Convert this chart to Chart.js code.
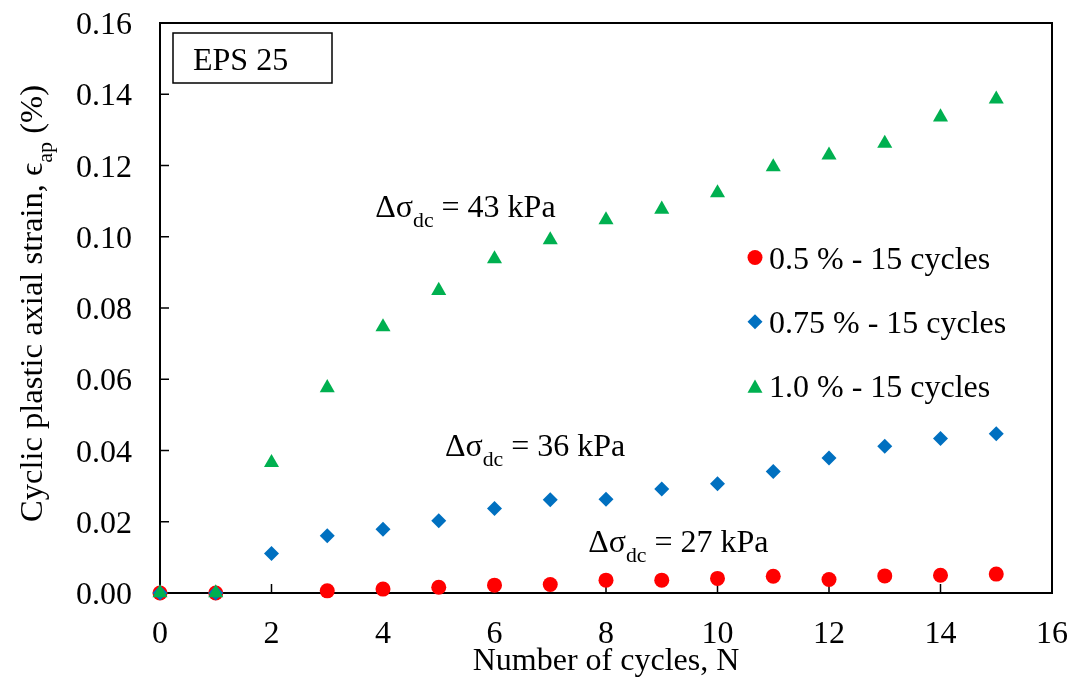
<!DOCTYPE html>
<html>
<head>
<meta charset="utf-8">
<script src="https://cdn.jsdelivr.net/npm/chart.js@4/dist/chart.umd.min.js"></script>
<style>
  html, body { margin: 0; padding: 0; background: #fff; }
  #strainChart { display: block; }
</style>
</head>
<body>
<canvas id="strainChart" width="1077" height="679"></canvas>
<script>
// Cycle numbers and plastic strain (%) for each stress level
const cycles = [0, 1, 2, 3, 4, 5, 6, 7, 8, 9, 10, 11, 12, 13, 14, 15];
const strain05 = [0, 0, null, 0.0006, 0.0011, 0.0016, 0.0022, 0.0024, 0.0036, 0.0036, 0.0041, 0.0047, 0.0038, 0.0048, 0.0050, 0.0053];
const strain075 = [0, 0, 0.0111, 0.0161, 0.0179, 0.0203, 0.0237, 0.0262, 0.0263, 0.0292, 0.0307, 0.0341, 0.0379, 0.0412, 0.0434, 0.0447];
const strain10 = [0, 0, 0.0366, 0.0576, 0.0747, 0.0849, 0.0938, 0.0991, 0.1047, 0.1077, 0.1123, 0.1196, 0.1229, 0.1262, 0.1336, 0.1386];

const seriesNames = ['0.5 % - 15 cycles', '0.75 % - 15 cycles', '1.0 % - 15 cycles'];
const xTicks = [0, 2, 4, 6, 8, 10, 12, 14, 16];
const yTicks = [0, 0.02, 0.04, 0.06, 0.08, 0.10, 0.12, 0.14, 0.16];

const SERIF = "'Liberation Serif', 'Times New Roman', serif";
const FONT = 32;

function toPoints(values) {
  const pts = [];
  values.forEach((v, i) => { if (v !== null) pts.push({ x: cycles[i], y: v }); });
  return pts;
}

// draws a run of text pieces, some of them subscripts
function drawRich(ctx, parts, x, y, o) {
  const size = o.size || FONT;
  const subSize = size * 0.68;
  ctx.save();
  ctx.fillStyle = '#000';
  ctx.textBaseline = 'alphabetic';
  ctx.textAlign = 'left';
  let total = 0;
  const widths = parts.map(p => {
    ctx.font = (p.sub ? subSize : size) + 'px ' + SERIF;
    const w = ctx.measureText(p.t).width;
    total += w;
    return w;
  });
  ctx.translate(x, y);
  if (o.rotate) ctx.rotate(o.rotate);
  if (o.fitLength) ctx.scale(o.fitLength / total, 1);
  let cx = o.align === 'center' ? -total / 2 : (o.align === 'right' ? -total : 0);
  parts.forEach((p, i) => {
    ctx.font = (p.sub ? subSize : size) + 'px ' + SERIF;
    ctx.fillText(p.t, cx, p.sub ? size * 0.32 : 0);
    cx += widths[i];
  });
  ctx.restore();
}

function legendMarker(ctx, style, color, x, y) {
  ctx.save();
  ctx.fillStyle = color;
  ctx.beginPath();
  if (style === 'circle') {
    ctx.arc(x, y, 7.5, 0, Math.PI * 2);
  } else if (style === 'rectRot') {
    ctx.moveTo(x, y - 7.5); ctx.lineTo(x + 7.5, y); ctx.lineTo(x, y + 7.5); ctx.lineTo(x - 7.5, y);
  } else {
    ctx.moveTo(x, y - 6.6); ctx.lineTo(x + 7.5, y + 6.6); ctx.lineTo(x - 7.5, y + 6.6);
  }
  ctx.closePath();
  ctx.fill();
  ctx.restore();
}

// stress amplitude notes, anchored in data units
const notes = [
  { at: [3.86, 0.1055], kpa: '43' },
  { at: [5.11, 0.0384], kpa: '36' },
  { at: [7.68, 0.0116], kpa: '27' }
];

const framePlugin = {
  id: 'frame',
  beforeDatasetsDraw(chart) {
    const { ctx, chartArea: a, scales: { x, y } } = chart;
    ctx.save();
    ctx.strokeStyle = '#000';
    ctx.lineWidth = 2;
    ctx.strokeRect(a.left, a.top, a.right - a.left, a.bottom - a.top);
    ctx.lineWidth = 1.5;
    ctx.beginPath();
    x.ticks.forEach(t => {
      const px = x.getPixelForValue(t.value);
      ctx.moveTo(px, a.bottom); ctx.lineTo(px, a.bottom - 9);
    });
    y.ticks.forEach(t => {
      const py = y.getPixelForValue(t.value);
      ctx.moveTo(a.left, py); ctx.lineTo(a.left + 9, py);
    });
    ctx.stroke();
    ctx.restore();

    // tick labels
    x.ticks.forEach(t => {
      drawRich(ctx, [{ t: String(t.value) }], x.getPixelForValue(t.value), 643, { align: 'center' });
    });
    y.ticks.forEach(t => {
      drawRich(ctx, [{ t: t.value.toFixed(2) }], 132, y.getPixelForValue(t.value) + 11, { align: 'right' });
    });

    // axis titles
    drawRich(ctx, [{ t: 'Number of cycles, N' }], (a.left + a.right) / 2, 670, { align: 'center' });
    drawRich(ctx, [{ t: 'Cyclic plastic axial strain, \u03F5' }, { t: 'ap', sub: true }, { t: ' (%)' }],
      42, 303.5, { align: 'center', rotate: -Math.PI / 2, fitLength: 437 });
  },
  afterDatasetsDraw(chart) {
    const { ctx, scales: { x, y } } = chart;

    // material tag
    ctx.save();
    ctx.strokeStyle = '#000';
    ctx.lineWidth = 1.5;
    ctx.strokeRect(173, 33, 159, 50);
    ctx.restore();
    drawRich(ctx, [{ t: 'EPS 25' }], 193, 70, {});

    notes.forEach(n => {
      drawRich(ctx, [{ t: '\u0394\u03C3' }, { t: 'dc', sub: true }, { t: ' = ' + n.kpa + ' kPa' }],
        x.getPixelForValue(n.at[0]), y.getPixelForValue(n.at[1]), {});
    });

    // legend
    chart.data.datasets.forEach((ds, i) => {
      const rowY = 257.5 + i * 64.3;
      legendMarker(ctx, ds.pointStyle, ds.backgroundColor, 755, rowY);
      drawRich(ctx, [{ t: ds.label }], 769, rowY + 11, {});
    });
  }
};

const chart = new Chart(document.getElementById('strainChart'), {
  type: 'scatter',
  data: {
    datasets: [
      {
        label: seriesNames[0],
        data: toPoints(strain05),
        pointStyle: 'circle',
        pointRadius: 7.5,
        backgroundColor: '#FF0000',
        borderColor: '#FF0000',
        pointBorderWidth: 0,
        clip: false,
        order: 3
      },
      {
        label: seriesNames[1],
        data: toPoints(strain075),
        pointStyle: 'rectRot',
        pointRadius: 7.5,
        backgroundColor: '#0070C0',
        borderColor: '#0070C0',
        pointBorderWidth: 0,
        clip: false,
        order: 2
      },
      {
        label: seriesNames[2],
        data: toPoints(strain10),
        pointStyle: 'triangle',
        pointRadius: 8.7,
        backgroundColor: '#00B050',
        borderColor: '#00B050',
        pointBorderWidth: 0,
        clip: false,
        order: 1
      }
    ]
  },
  options: {
    responsive: false,
    animation: false,
    events: [],
    layout: { padding: { left: 0, right: 25, top: 23, bottom: 0 } },
    plugins: {
      legend: { display: false },
      tooltip: { enabled: false }
    },
    scales: {
      x: {
        type: 'linear',
        min: 0,
        max: 16,
        afterBuildTicks: s => { s.ticks = xTicks.map(v => ({ value: v })); },
        afterFit: s => { s.height = 86; },
        ticks: { display: false },
        grid: { display: false },
        border: { display: false }
      },
      y: {
        type: 'linear',
        min: 0,
        max: 0.16,
        afterBuildTicks: s => { s.ticks = yTicks.map(v => ({ value: v })); },
        afterFit: s => { s.width = 160; },
        ticks: { display: false },
        grid: { display: false },
        border: { display: false }
      }
    }
  },
  plugins: [framePlugin]
});
</script>
</body>
</html>
